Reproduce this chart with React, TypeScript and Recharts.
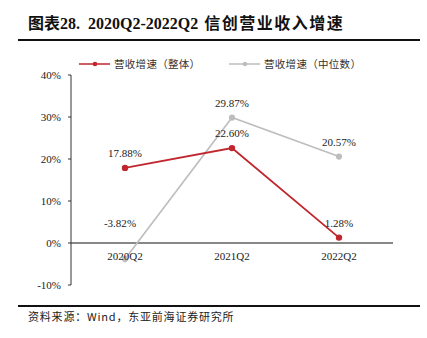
import { LineChart, Line, XAxis, YAxis, ReferenceLine, LabelList } from "recharts";

const quarters = ["2020Q2", "2021Q2", "2022Q2"];
const totalGrowth = [17.88, 22.6, 1.28];
const medianGrowth = [-3.82, 29.87, 20.57];
const yTicks = [-10, 0, 10, 20, 30, 40];

const RED = "#C0262D";
const GRAY = "#BDBDBD";
const SERIF = '"Liberation Serif", "Times New Roman", "Noto Sans CJK SC", serif';
const CJK = '"Noto Sans CJK SC", "Liberation Serif", serif';

const data = quarters.map((q, i) => ({
  quarter: q,
  total: totalGrowth[i],
  median: medianGrowth[i],
}));

function PctLabel(props: any) {
  const { x, y, value } = props;
  const neg = value < 0;
  return (
    <text
      x={x + (neg ? -5 : 0)}
      y={y - (neg ? 36 : 15)}
      textAnchor="middle"
      dominantBaseline="central"
      fontSize={11}
      fontFamily={SERIF}
      fill="#222"
    >
      {value.toFixed(2)}%
    </text>
  );
}

function QuarterTick(props: any) {
  const { x, y, payload } = props;
  return (
    <text x={x} y={y - 25} textAnchor="middle" fontSize={11} fontFamily={SERIF} fill="#222">
      {payload.value}
    </text>
  );
}

function LegendItem({ left, color, text }: { left: number; color: string; text: string }) {
  return (
    <div style={{ position: "absolute", left, top: 56, display: "flex", alignItems: "center" }}>
      <svg width={32} height={10}>
        <line x1={0} y1={5} x2={31} y2={5} stroke={color} strokeWidth={1.5} />
        <circle cx={16} cy={5} r={2.3} fill={color} />
      </svg>
      <span style={{ marginLeft: 3, fontSize: 10.5, fontFamily: CJK, color: "#333", letterSpacing: 0.3 }}>{text}</span>
    </div>
  );
}

export default function App() {
  return (
    <div style={{ position: "absolute", left: 0, top: 0, width: 427, height: 338, background: "#fff" }}>
      <div
        style={{
          position: "absolute",
          left: 28,
          top: 10,
          fontSize: 16,
          fontWeight: "bold",
          fontFamily: SERIF,
          color: "#111",
          whiteSpace: "nowrap",
        }}
      >
        <span>图表28.</span>
        <span style={{ marginLeft: 8 }}>2020Q2-2022Q2</span>
        <span style={{ marginLeft: 6, letterSpacing: 1.5 }}>信创营业收入增速</span>
      </div>
      <div style={{ position: "absolute", left: 18, top: 39, width: 402, height: 1.5, background: "#111" }} />
      <LegendItem left={79} color={RED} text="营收增速（整体）" />
      <LegendItem left={229} color={GRAY} text="营收增速（中位数）" />
      <div style={{ position: "absolute", left: 0, top: 0 }}>
        <LineChart width={427} height={338} data={data} margin={{ top: 75, right: 34, bottom: 33, left: 0 }}>
          <XAxis
            dataKey="quarter"
            height={20}
            axisLine={false}
            tickLine={false}
            tickSize={0}
            tickMargin={0}
            padding={{ left: 54, right: 54 }}
            tick={<QuarterTick />}
            interval={0}
          />
          <YAxis
            width={71}
            domain={[-10, 40]}
            ticks={yTicks}
            interval={0}
            tickFormatter={(v: number) => `${v}%`}
            axisLine={{ stroke: "#333" }}
            tickLine={{ stroke: "#333" }}
            tickSize={3}
            tickMargin={7}
            tick={{ fontSize: 11, fontFamily: SERIF, fill: "#222" }}
          />
          <ReferenceLine y={0} stroke="#111" strokeWidth={1} />
          <Line
            dataKey="median"
            stroke={GRAY}
            strokeWidth={1.6}
            dot={{ r: 2.3, fill: GRAY, stroke: GRAY }}
            isAnimationActive={false}
          >
            <LabelList dataKey="median" content={<PctLabel />} />
          </Line>
          <Line
            dataKey="total"
            stroke={RED}
            strokeWidth={1.8}
            dot={{ r: 2.3, fill: RED, stroke: RED }}
            isAnimationActive={false}
          >
            <LabelList dataKey="total" content={<PctLabel />} />
          </Line>
        </LineChart>
      </div>
      <div style={{ position: "absolute", left: 18, top: 305, width: 402, height: 1.5, background: "#111" }} />
      <div
        style={{
          position: "absolute",
          left: 28,
          top: 308,
          fontSize: 11,
          fontFamily: CJK,
          color: "#222",
          whiteSpace: "nowrap",
          letterSpacing: 0.8,
        }}
      >
        资料来源：Wind，东亚前海证券研究所
      </div>
    </div>
  );
}
